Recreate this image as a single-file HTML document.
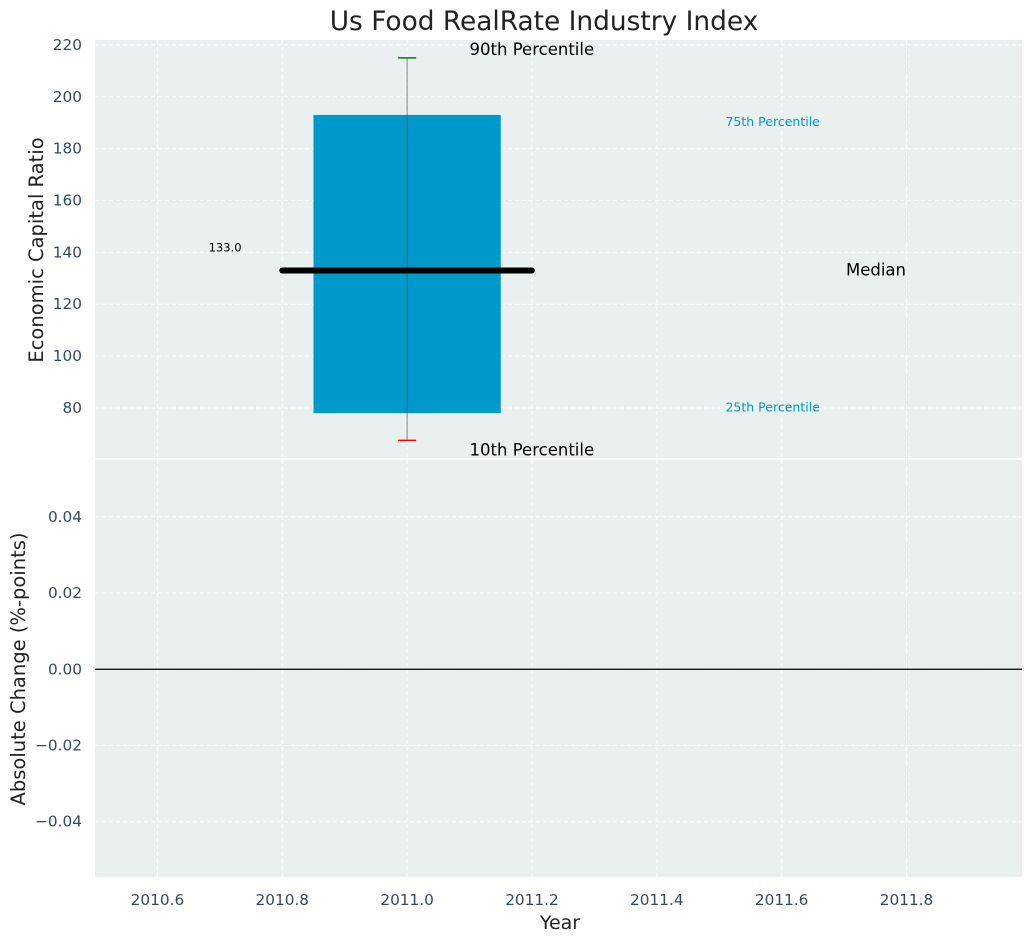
<!DOCTYPE html>
<html><head><meta charset="utf-8"><style>
body{margin:0;background:#fff;font-family:"Liberation Sans","DejaVu Sans",sans-serif}
svg text{font-family:"DejaVu Sans","Liberation Sans",sans-serif}
</style></head><body>
<svg id="c" width="1034" height="942"></svg>
<script>
const categories=[2011.0];
const p10=[67.5], p25=[78], median=[133], p75=[193], p90=[215];
const changes=[0];
const xTicks=[2010.6,2010.8,2011.0,2011.2,2011.4,2011.6,2011.8];
const yTopTicks=[80,100,120,140,160,180,200,220];
const yBotTicks=[-0.04,-0.02,0.00,0.02,0.04];
const svg=document.getElementById('c');
const NS='http://www.w3.org/2000/svg';
function el(t,a,txt){const e=document.createElementNS(NS,t);for(const k in a)e.setAttribute(k,a[k]);if(txt!=null)e.textContent=txt;svg.appendChild(e);return e;}
const X0=95,X1=1022,xmin=2010.5,xmax=2011.985;
const sx=v=>X0+(v-xmin)/(xmax-xmin)*(X1-X0);
const T0=40,T1=458,tmin=60.7,tmax=221.9;
const sy=v=>T1-(v-tmin)/(tmax-tmin)*(T1-T0);
const B0=460,B1=877,bmin=-0.0545,bmax=0.0549;
const by=v=>B1-(v-bmin)/(bmax-bmin)*(B1-B0);
let r=el('rect',{x:X0,y:T0,width:X1-X0,height:T1-T0,fill:'#eaeff0'});

r=el('rect',{x:X0,y:B0,width:X1-X0,height:B1-B0,fill:'#eaeff0'});

xTicks.forEach(v=>{
 [[T0,T1],[B0,B1]].forEach(([a,b])=>{let g=el('line',{x1:sx(v),x2:sx(v),y1:a,y2:b,stroke:'#fff','stroke-dasharray':'4,3'});});
 let t=el('text',{x:sx(v),y:905,'text-anchor':'middle','font-size':15.3,fill:'#34495e'},v.toFixed(1));
 
});
yTopTicks.forEach(v=>{
 let g=el('line',{x1:X0,x2:X1,y1:sy(v),y2:sy(v),stroke:'#fff','stroke-dasharray':'4,3'});
 let t=el('text',{x:82,y:sy(v)+5,'text-anchor':'end','font-size':15.3,fill:'#34495e'},v);
 
});
yBotTicks.forEach(v=>{
 let g=el('line',{x1:X0,x2:X1,y1:by(v),y2:by(v),stroke:'#fff','stroke-dasharray':'4,3'});
 let t=el('text',{x:82,y:by(v)+5,'text-anchor':'end','font-size':15.3,fill:'#34495e'},(v<0?'\u2212':'')+Math.abs(v).toFixed(2));
 
});
categories.forEach((c,i)=>{
 let b=el('rect',{x:sx(c-0.15),y:sy(p75[i]),width:sx(c+0.15)-sx(c-0.15),height:sy(p25[i])-sy(p75[i]),fill:'#0099cc'});
 
 let w=el('line',{x1:sx(c),x2:sx(c),y1:sy(p10[i]),y2:sy(p90[i]),stroke:'#555','stroke-width':1,opacity:0.7});
 
 let m=el('line',{x1:sx(c-0.2),x2:sx(c+0.2),y1:sy(median[i]),y2:sy(median[i]),stroke:'#000','stroke-width':6,'stroke-linecap':'round'});
 
 let g=el('line',{x1:sx(c)-9,x2:sx(c)+9,y1:sy(p90[i]),y2:sy(p90[i]),stroke:'green','stroke-width':1.5});
 
 let rd=el('line',{x1:sx(c)-9,x2:sx(c)+9,y1:sy(p10[i]),y2:sy(p10[i]),stroke:'red','stroke-width':1.5});
 
 let t=el('text',{x:sx(c-0.318),y:sy(median[i])-19,'font-size':11.5,fill:'#000'},median[i].toFixed(1));
 
 t=el('text',{x:sx(c+0.1),y:sy(p90[i])-3,'font-size':16.5,fill:'#000'},'90th Percentile');
 
 t=el('text',{x:sx(c+0.1),y:sy(p10[i])+15,'font-size':16.5,fill:'#000'},'10th Percentile');
 
 t=el('text',{x:sx(c+0.51),y:sy(p75[i]-3.5)+2,'font-size':12.5,fill:'#0099cc'},'75th Percentile');
 
 t=el('text',{x:sx(c+0.51),y:sy(p25[i]+1.5)+2,'font-size':12.5,fill:'#0099cc'},'25th Percentile');
 
 t=el('text',{x:sx(c+0.703),y:sy(median[i])+5,'font-size':16.5,fill:'#000'},'Median');
 
});
changes.forEach(v=>{
 let z=el('line',{x1:X0,x2:X1,y1:by(v),y2:by(v),stroke:'#000','stroke-width':1.2});
 
});
let t=el('text',{x:544,y:30,'text-anchor':'middle','font-size':26.4,fill:'#222'},'Us Food RealRate Industry Index');

t=el('text',{x:560,y:929,'text-anchor':'middle','font-size':19,fill:'#222'},'Year');

t=el('text',{x:0,y:0,'text-anchor':'middle','font-size':19.5,fill:'#222',transform:'translate(43,250) rotate(-90)'},'Economic Capital Ratio');

t=el('text',{x:0,y:0,'text-anchor':'middle','font-size':19.5,fill:'#222',transform:'translate(25,669) rotate(-90)'},'Absolute Change (%-points)');

</script>
</body></html>
